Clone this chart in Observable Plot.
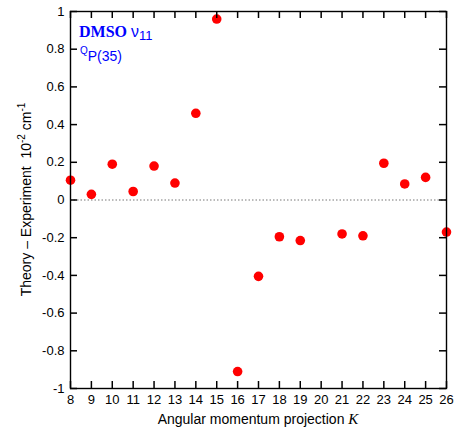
<!DOCTYPE html>
<html><head><meta charset="utf-8">
<script src="https://cdn.jsdelivr.net/npm/d3@7"></script>
<script src="https://cdn.jsdelivr.net/npm/@observablehq/plot@0.6"></script>
<style>body{margin:0;background:#fff}</style>
</head><body><div id="chart"></div>
<script>
const K = [8, 9, 10, 11, 12, 13, 14, 15, 16, 17, 18, 19, 21, 22, 23, 24, 25, 26];
const diff = [0.105, 0.03, 0.19, 0.045, 0.18, 0.09, 0.46, 0.96, -0.91, -0.405, -0.195, -0.215, -0.18, -0.19, 0.195, 0.085, 0.12, -0.17];
const xTicks = d3.range(8, 27, 1);
const yTicks = [-1, -0.8, -0.6, -0.4, -0.2, 0, 0.2, 0.4, 0.6, 0.8, 1];
const data = K.map((k, i) => ({K: k, d: diff[i]}));
const fmtY = d => String(+(+d).toFixed(1));

const W = 463, H = 428, mL = 70, mR = 17, mT = 11, mB = 40;
const pw = W - mL - mR, ph = H - mT - mB, tl = 7;
const plot = Plot.plot({
  width: W, height: H,
  marginLeft: mL, marginRight: mR, marginTop: mT, marginBottom: mB,
  style: {fontFamily: "Liberation Sans, Arial, sans-serif", fontSize: "13px", background: "#fff"},
  x: {domain: [8, 26], ticks: xTicks},
  y: {domain: [-1, 1], ticks: yTicks},
  marks: [
    Plot.ruleY([0], {stroke: "#777", strokeDasharray: "1.5,2", strokeWidth: 1}),
    Plot.dot(data, {x: "K", y: "d", r: 4.8, fill: "#ff0000", stroke: "none"}),
    Plot.axisX(xTicks, {anchor: "bottom", tickSize: 0, tickPadding: 6, tickFormat: d => String(d), label: null, fontSize: 13, fill: "#000"}),
    Plot.axisY(yTicks, {anchor: "left", tickSize: 0, tickPadding: 6, tickFormat: fmtY, label: null, fontSize: 13, fill: "#000"}),
    Plot.frame({stroke: "#000", strokeWidth: 1.4}),
    Plot.tickX(xTicks, {x: d => d, insetTop: ph - tl, stroke: "#000", strokeWidth: 1.5}),
    Plot.tickX(xTicks, {x: d => d, insetBottom: ph - tl, stroke: "#000", strokeWidth: 1.5}),
    Plot.tickY(yTicks, {y: d => d, insetRight: pw - tl, stroke: "#000", strokeWidth: 1.5}),
    Plot.tickY(yTicks, {y: d => d, insetLeft: pw - tl, stroke: "#000", strokeWidth: 1.5})
  ]
});
document.getElementById("chart").appendChild(plot);

const svg = d3.select(plot);
const ff = "Liberation Sans, Arial, sans-serif";
const xl = svg.append("text").attr("x", mL + pw / 2).attr("y", 424)
  .attr("text-anchor", "middle").attr("font-family", ff).attr("font-size", 14).attr("fill", "#000");
xl.append("tspan").text("Angular momentum projection ");
xl.append("tspan").attr("font-family", "Liberation Serif, Times New Roman, serif").attr("font-style", "italic").attr("font-size", 15).text("K");
const cy = mT + ph / 2;
const yl = svg.append("text").attr("transform", `translate(31,${cy}) rotate(-90)`)
  .attr("text-anchor", "middle").attr("font-family", ff).attr("font-size", 14).attr("fill", "#000");
yl.append("tspan").text("Theory \u2013 Experiment\u00a0\u00a010");
yl.append("tspan").attr("font-size", 10).attr("dy", -6).text("-2");
yl.append("tspan").attr("dy", 6).text(" cm");
yl.append("tspan").attr("font-size", 10).attr("dy", -6).text("-1");
const t1 = svg.append("text").attr("x", 79).attr("y", 37).attr("fill", "#0000ff").attr("text-anchor", "start");
t1.append("tspan").attr("font-family", "Liberation Serif, Times New Roman, serif").attr("font-weight", "bold").attr("font-size", 16).text("DMSO ");
t1.append("tspan").attr("font-family", ff).attr("font-size", 16).text("\u03bd");
t1.append("tspan").attr("font-family", ff).attr("font-size", 13).attr("dy", 3).text("11");
const t2 = svg.append("text").attr("x", 80).attr("y", 61).attr("fill", "#0000ff").attr("font-family", ff).attr("text-anchor", "start");
t2.append("tspan").attr("font-size", 10).attr("dy", -7).text("Q");
t2.append("tspan").attr("font-size", 14).attr("dy", 7).text("P(35)");
</script>
</body></html>
